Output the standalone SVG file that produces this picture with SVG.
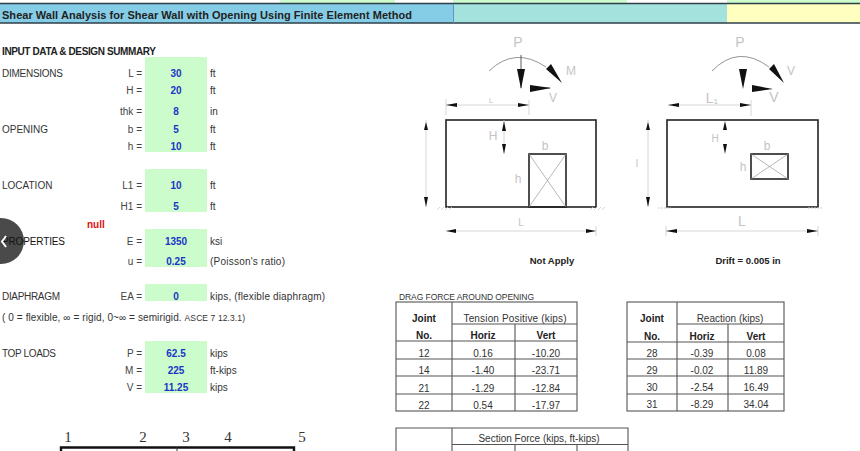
<svg xmlns="http://www.w3.org/2000/svg" width="860" height="451" viewBox="0 0 860 451">
<style>
text{font-family:"Liberation Sans",Arial,sans-serif;font-size:10px;fill:#333}
.b{font-weight:bold;fill:#222}
.v{font-weight:bold;fill:#1a35c8;text-anchor:middle}
.r{text-anchor:end;fill:#444}
.m{text-anchor:middle}
.g{fill:#ccfccc}
.fat{fill:none;stroke:#222;stroke-width:1.6}
.thin{fill:none;stroke:#999;stroke-width:.7}
.dim{fill:none;stroke:#ccc;stroke-width:.8}
.blk{fill:#111}
.lab{font-size:14px;fill:#c4c4c4;text-anchor:middle}
.tb{fill:none;stroke:#555;stroke-width:1.1}
.s{font-family:"Liberation Serif",serif;font-size:15px;fill:#333;text-anchor:middle}
</style>
<rect width="860" height="451" fill="#fff"/>
<g id="header">
<rect x="280" y="0" width="115" height="3" class="g"/>
<rect x="453" y="0" width="174" height="3" class="g"/>
<rect x="727" y="0" width="133" height="3" class="g"/>
<rect x="0" y="4" width="454" height="19" fill="#85cde6"/>
<rect x="454" y="4" width="273" height="19" fill="#a4e2de"/>
<rect x="727" y="4" width="133" height="19" fill="#ffffc0"/>
<path d="M0 3.500H860M0 23H860" stroke="#2f3f4a" stroke-width="1.600" fill="none"/>
<path d="M453.500 4V23" stroke="#5c94cc" stroke-width="1"/>
<text x="2" y="19" class="b" style="font-size:11px" textLength="410" lengthAdjust="spacing">Shear Wall Analysis for Shear Wall with Opening Using Finite Element Method</text>
</g>
<g id="nav-button">
<circle cx="1" cy="241" r="23" fill="#4a4a4a"/>
</g>
<g id="inputs">
<rect x="145" y="57" width="62" height="95" class="g"/>
<rect x="145" y="169" width="62" height="43" class="g"/>
<rect x="145" y="229" width="62" height="38" class="g"/>
<rect x="145" y="284" width="62" height="17" class="g"/>
<rect x="145" y="341" width="62" height="52" class="g"/>
<text x="2" y="55" class="b" textLength="154">INPUT DATA &amp; DESIGN SUMMARY</text>
<text x="2" y="77" textLength="61">DIMENSIONS</text>
<text x="2" y="133">OPENING</text>
<text x="2" y="189">LOCATION</text>
<text x="2" y="245" textLength="63" style="fill:#111">PROPERTIES</text>
<text x="2" y="300" textLength="58">DIAPHRAGM</text>
<text x="2" y="357" textLength="54">TOP LOADS</text>
<text x="87" y="228" class="b" style="fill:#e01010">null</text>
<text x="2" y="321" textLength="243">( 0 = flexible, ∞ = rigid, 0~∞ = semirigid. <tspan style="font-size:8.500px">ASCE 7 12.3.1)</tspan></text>
<g id="labels-right">
<text x="142" y="77" class="r">L =</text><text x="142" y="94" class="r">H =</text><text x="142" y="115" class="r">thk =</text><text x="142" y="133" class="r">b =</text><text x="142" y="150" class="r">h =</text><text x="142" y="189" class="r">L1 =</text><text x="142" y="210" class="r">H1 =</text><text x="142" y="245" class="r">E =</text><text x="142" y="265" class="r">u =</text><text x="142" y="300" class="r">EA =</text><text x="142" y="357" class="r">P =</text><text x="142" y="374" class="r">M =</text><text x="142" y="391" class="r">V =</text>
</g>
<g id="values">
<text x="176" y="77" class="v">30</text><text x="176" y="94" class="v">20</text><text x="176" y="115" class="v">8</text><text x="176" y="133" class="v">5</text><text x="176" y="150" class="v">10</text><text x="176" y="189" class="v">10</text><text x="176" y="210" class="v">5</text><text x="176" y="245" class="v">1350</text><text x="176" y="265" class="v">0.25</text><text x="176" y="300" class="v">0</text><text x="176" y="357" class="v">62.5</text><text x="176" y="374" class="v">225</text><text x="176" y="391" class="v">11.25</text>
</g>
<g id="units">
<text x="210" y="77">ft</text><text x="210" y="94">ft</text><text x="210" y="115">in</text><text x="210" y="133">ft</text><text x="210" y="150">ft</text><text x="210" y="189">ft</text><text x="210" y="210">ft</text><text x="210" y="245">ksi</text><text x="210" y="265" textLength="75">(Poisson's ratio)</text><text x="210" y="300" textLength="115">kips, (flexible diaphragm)</text><text x="210" y="357">kips</text><text x="210" y="374">ft-kips</text><text x="210" y="391">kips</text>
</g>
</g>
<path id="nav-chevron" d="M6 236L2 241.500L6 247" fill="none" stroke="#fff" stroke-width="2"/>
<g id="diagram-left">
<rect x="446" y="120" width="150" height="87" class="fat"/>
<rect x="529" y="154" width="37" height="53" class="fat"/>
<path d="M529 207L566 154M529 154L566 207" class="thin"/>
<path d="M489 71Q515 46 546 67" fill="none" stroke="#666" stroke-width=".7"/>
<path d="M521 55V88M530 88H550" stroke="#333" stroke-width=".8" fill="none"/>
<path d="M517 69H525L521 89ZM530 85V92L551 88ZM546 69L551 64L562 83Z" class="blk"/>
<path d="M446 99V115M529 100V115M446 105H529M426 120V207M504 120V154M446 231H596M596 226V236" class="dim"/>
<path d="M446 105L457 103V107ZM529 105L518 103V107ZM426 122L424 130H428ZM426 207L424 197H428ZM504 121L502 131H506ZM504 154L502 144H506ZM446 231L456 229V233ZM596 231L586 229V233Z" class="blk"/>
<text x="518" y="47" class="lab">P</text><text x="571" y="75" class="lab" style="font-size:12px">M</text><text x="553" y="102" class="lab" style="font-size:12px">V</text><text x="545" y="150" class="lab" style="font-size:12px">b</text><text x="518" y="183" class="lab" style="font-size:12px">h</text><text x="521" y="226" class="lab" style="font-size:10px">L</text><text x="491" y="103" class="lab" style="font-size:8px">L</text><text x="493" y="140" class="lab" style="font-size:12px">H</text>
<path d="M437 210l3-3M441 210l3-3M445 210l3-3M449 210l3-3M590 210l3-3M594 210l3-3M598 210l3-3M602 210l3-3" class="dim"/>
<text x="552" y="264" class="b m" style="font-size:9.500px">Not Apply</text>
</g>
<g id="diagram-right">
<rect x="667" y="120" width="151" height="87" class="fat"/>
<rect x="751" y="154" width="37" height="25" class="fat"/>
<path d="M751 179L788 154M751 154L788 179" class="thin"/>
<path d="M712 71Q738 44 769 67" fill="none" stroke="#666" stroke-width=".7"/>
<path d="M739 69H747L743 89ZM752 85V92L773 89ZM769 69L774 64L784 83Z" class="blk"/>
<path d="M668 105H751M751 100V116M648 120V207M666 226V236M666 231H818M818 226V236" class="dim"/>
<path d="M668 105L679 103V107ZM751 105L740 103V107ZM648 122L646 130H650ZM648 207L646 197H650ZM725 121L723 130H727ZM725 154L723 144H727ZM666 231L677 229V233ZM818 231L807 229V233Z" class="blk"/>
<text x="740" y="47" class="lab">P</text><text x="791" y="75" class="lab" style="font-size:12px">V</text><text x="774" y="102" class="lab">V</text><text x="712" y="103" class="lab">L₁</text><text x="767" y="150" class="lab" style="font-size:12px">b</text><text x="743" y="171" class="lab" style="font-size:12px">h</text><text x="742" y="226" class="lab">L</text><text x="637" y="167" class="lab" style="font-size:10px">I</text><text x="715" y="142" class="lab" style="font-size:10px">H</text>
<path d="M658 208h13M808 208h14" stroke="#ccc" stroke-dasharray="2 1" fill="none"/>
<text x="748" y="264" class="b m" style="font-size:9.500px">Drift = 0.005 in</text>
</g>
<g id="table-drag">
<text x="399" y="300" style="font-size:8.500px" textLength="135">DRAG FORCE AROUND OPENING</text>
<rect x="396" y="302" width="181" height="109" class="tb"/>
<path d="M452 302V411M515 324V411M452 324H577M396 341H577M396 359H577M396 376H577M396 394H577" class="tb"/>
<text x="424" y="322" class="b m">Joint</text><text x="424" y="339" class="b m">No.</text><text x="515" y="322" class="m" textLength="103">Tension Positive (kips)</text><text x="483" y="339" class="b m">Horiz</text><text x="546" y="339" class="b m">Vert</text>
<text x="424" y="357" class="m">12</text><text x="483" y="357" class="m">0.16</text><text x="546" y="357" class="m">-10.20</text>
<text x="424" y="374" class="m">14</text><text x="483" y="374" class="m">-1.40</text><text x="546" y="374" class="m">-23.71</text>
<text x="424" y="392" class="m">21</text><text x="483" y="392" class="m">-1.29</text><text x="546" y="392" class="m">-12.84</text>
<text x="424" y="409" class="m">22</text><text x="483" y="409" class="m">0.54</text><text x="546" y="409" class="m">-17.97</text>
</g>
<g id="table-reaction">
<rect x="627" y="302" width="157" height="109" class="tb"/>
<path d="M677 302V411M728 324V411M677 324H784M627 342H784M627 359H784M627 376H784M627 394H784" class="tb"/>
<text x="652" y="322" class="b m">Joint</text><text x="652" y="340" class="b m">No.</text><text x="730" y="322" class="m">Reaction (kips)</text><text x="702" y="340" class="b m">Horiz</text><text x="756" y="340" class="b m">Vert</text>
<text x="652" y="357" class="m">28</text><text x="702" y="357" class="m">-0.39</text><text x="756" y="357" class="m">0.08</text>
<text x="652" y="374" class="m">29</text><text x="702" y="374" class="m">-0.02</text><text x="756" y="374" class="m">11.89</text>
<text x="652" y="391" class="m">30</text><text x="702" y="391" class="m">-2.54</text><text x="756" y="391" class="m">16.49</text>
<text x="652" y="408" class="m">31</text><text x="702" y="408" class="m">-8.29</text><text x="756" y="408" class="m">34.04</text>
</g>
<g id="table-section">
<path d="M396 451V428H628V451M452 428V451M452 444.500H628M515 444.500V451M577 444.500V451" class="tb"/>
<text x="539" y="442" class="m">Section Force (kips, ft-kips)</text>
</g>
<g id="bottom-frame">
<text x="68" y="442" class="s">1</text><text x="143" y="442" class="s">2</text><text x="186" y="442" class="s">3</text><text x="228" y="442" class="s">4</text><text x="302" y="442" class="s">5</text>
<path d="M61 451V447.500H294V451" fill="none" stroke="#111" stroke-width="2.400"/>
<path d="M177 447V451" stroke="#333"/>
</g>
</svg>
